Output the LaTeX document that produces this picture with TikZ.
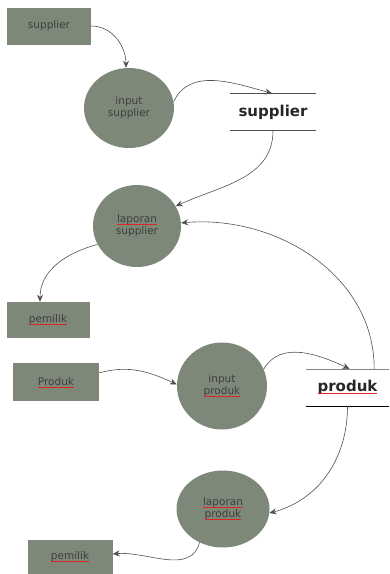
\documentclass[tikz,border=0pt]{standalone}
\usepackage{fontspec}
\setmainfont{DejaVu Sans}
\usetikzlibrary{shapes.geometric, arrows.meta}

\definecolor{procfill}{RGB}{125,136,120}
\definecolor{labeltext}{RGB}{62,62,62}
\definecolor{spellred}{RGB}{225,35,35}
\definecolor{flowline}{RGB}{80,80,80}
\newcommand{\labelfont}{\fontsize{10.5}{12}\selectfont}
\newcommand{\storefont}{\fontsize{15}{17}\selectfont\bfseries}
% red spell-check line under a word: {anchor}{yshift}{word width}
\newcommand{\spellmark}[3]{%
  \draw[spell] ([xshift=-0.5*#3, yshift=#2]#1) -- ([xshift=0.5*#3, yshift=#2]#1);}

\begin{document}
\begin{tikzpicture}[x=1pt, y=-1pt, >={Stealth[length=7pt, width=6pt]},
    every node/.style={font=\labelfont, text=labeltext},
    entity/.style={fill=procfill, inner sep=0pt},
    process/.style={ellipse, fill=procfill, inner sep=0pt, align=center},
    store/.style={minimum height=37pt, inner sep=0pt, font=\storefont, text=black!85},
    flow/.style={->, draw=flowline, line width=0.6pt},
    spell/.style={draw=spellred, line width=1.2pt}]
    \useasboundingbox (0,0) rectangle (389,574);

    \node[entity, minimum width=84pt, minimum height=37pt] (sup) at (49,26) {supplier};
    \node[process, minimum width=90pt, minimum height=80pt] (insup) at (129,108) {input\\supplier};
    \node[store, minimum width=86pt] (dsup) at (273,112) {supplier};
    \draw[flowline, line width=0.8pt] (dsup.north west) -- (dsup.north east);
    \draw[flowline, line width=0.8pt] (dsup.south west) -- (dsup.south east);

    \node[process, minimum width=88pt, minimum height=82pt] (lapsup) at (137,226) {laporan\\supplier};
    \node[entity, minimum width=83pt, minimum height=36pt] (own1) at (48,320) {pemilik};

    \node[entity, minimum width=86pt, minimum height=38pt] (prod) at (56,382) {Produk};
    \node[process, minimum width=90pt, minimum height=87pt] (inprod) at (222,386) {input\\produk};
    \node[store, minimum width=83pt] (dprod) at (347.5,387.5) {produk};
    \draw[flowline!70, line width=0.6pt] (dprod.north west) -- (dprod.north east);
    \draw[black, line width=1.2pt] (dprod.south west) -- (dprod.south east);

    \node[process, minimum width=93pt, minimum height=77pt] (lapprod) at (223,509) {laporan\\produk};
    \node[entity, minimum width=85pt, minimum height=34pt] (own2) at (70,557) {pemilik};

    % spell-check marks
    \spellmark{lapsup.center}{1.45pt}{39.9pt}
    \spellmark{own1.base}{-1.8pt}{38.2pt}
    \spellmark{prod.base}{-1.8pt}{36.5pt}
    \spellmark{inprod.center}{-10.55pt}{36.8pt}
    \spellmark{dprod.base}{-2.2pt}{59.8pt}
    \spellmark{lapprod.center}{1.45pt}{39.9pt}
    \spellmark{lapprod.center}{-10.55pt}{36.8pt}
    \spellmark{own2.base}{-1.8pt}{38.2pt}

    % supplier -> input supplier
    \draw[flow] (sup.east) to[out=0, in=90] ([xshift=-3pt]insup.north);
    % input supplier -> data supplier
    \draw[flow] (insup.8) to[out=65, in=165] ([xshift=-1pt]dsup.north);
    % data supplier -> laporan supplier
    \draw[flow] (dsup.south) to[out=-90, in=25] (lapsup.27);
    % data produk -> laporan supplier
    \draw[flow] ([xshift=-15pt]dprod.north east) to[out=90, in=5] (lapsup.4);
    % laporan supplier -> pemilik
    \draw[flow] (lapsup.205) to[out=195, in=90] ([xshift=-8pt]own1.north);
    % produk -> input produk
    \draw[flow] (prod.12) to[out=15, in=155] (inprod.178);
    % input produk -> data produk
    \draw[flow] (inprod.22) to[out=60, in=155] ([xshift=2pt]dprod.north);
    % data produk -> laporan produk
    \draw[flow] (dprod.south) to[out=-90, in=15] (lapprod.355);
    % laporan produk -> pemilik
    \draw[flow] (lapprod.235) to[out=-105, in=5] ([yshift=3pt]own2.east);
\end{tikzpicture}
\end{document}
